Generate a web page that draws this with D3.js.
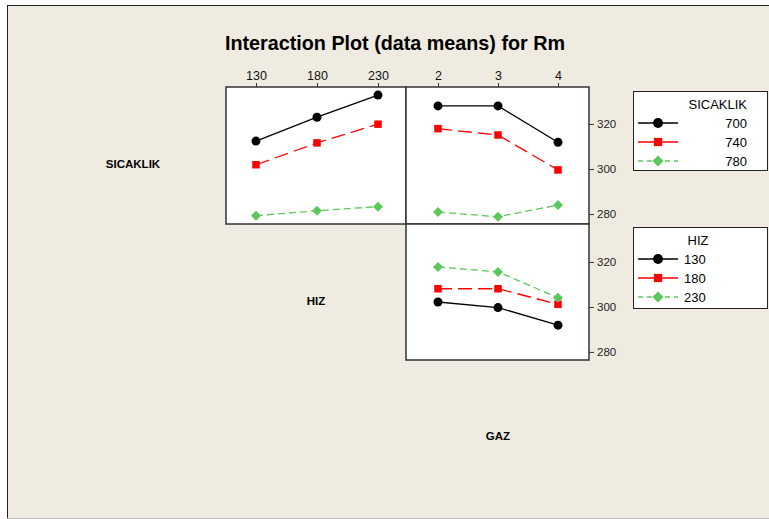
<!doctype html>
<html>
<head>
<script src="https://d3js.org/d3.v7.min.js"></script>
<style>
  body { margin: 0; background: #fff; }
  text { font-family: Arial, "Liberation Sans", sans-serif; }
</style>
</head>
<body>
<script>
// ---- data ----
var hizLevels = [130, 180, 230];
var gazLevels = [2, 3, 4];
var sicaklikLevels = [700, 740, 780];

// top-left: Rm vs HIZ, one line per SICAKLIK
var sicHiz700 = [312.4, 323.0, 332.8];
var sicHiz740 = [301.9, 311.6, 319.9];
var sicHiz780 = [279.3, 281.5, 283.3];

// top-right: Rm vs GAZ, one line per SICAKLIK
var sicGaz700 = [328.0, 328.0, 311.9];
var sicGaz740 = [317.9, 315.1, 299.6];
var sicGaz780 = [280.9, 278.8, 284.0];

// bottom-right: Rm vs GAZ, one line per HIZ
var hizGaz130 = [302.2, 299.7, 291.9];
var hizGaz180 = [308.1, 308.1, 301.2];
var hizGaz230 = [317.8, 315.6, 304.1];

var yTicks = [280, 300, 320];

// ---- layout ----
var W = 769, H = 519;
var svg = d3.select("body").append("svg").attr("width", W).attr("height", H);

svg.append("rect").attr("x", 7).attr("y", 5).attr("width", W - 7).attr("height", H - 6).attr("fill", "#efebe0");
svg.append("line").attr("x1", 7).attr("x2", W).attr("y1", 5.5).attr("y2", 5.5).attr("stroke", "#222");
svg.append("line").attr("x1", 7.5).attr("x2", 7.5).attr("y1", 5).attr("y2", H).attr("stroke", "#222");
svg.append("line").attr("x1", 7).attr("x2", W).attr("y1", 518.5).attr("y2", 518.5).attr("stroke", "#bbb");

svg.append("text").attr("x", 395).attr("y", 50).attr("text-anchor", "middle")
  .attr("textLength", 340).attr("lengthAdjust", "spacingAndGlyphs")
  .style("font-weight", "bold").style("font-size", "21px").text("Interaction Plot (data means) for Rm");

var styles = [
  { color: "#000", dash: null, shape: "circle" },
  { color: "#ff0000", dash: "14,6", shape: "square" },
  { color: "#5cc85c", dash: "7,4", shape: "diamond" }
];

var x1 = d3.scalePoint().domain(hizLevels).range([256, 378]);
var x2 = d3.scalePoint().domain(gazLevels).range([438, 558]);
var yTop = d3.scaleLinear().domain([275.6, 336.4]).range([224, 87]);
var yBot = d3.scaleLinear().domain([276.4, 336.9]).range([360, 224]);

function marker(g, shape, color, cx, cy, k) {
  k = k || 1;
  if (shape === "circle") {
    g.append("circle").attr("cx", cx).attr("cy", cy).attr("r", 4.5 * k).attr("fill", color);
  } else if (shape === "square") {
    var s = 7.5 * k;
    g.append("rect").attr("x", cx - s / 2).attr("y", cy - s / 2).attr("width", s).attr("height", s).attr("fill", color);
  } else {
    var r = 5 * k;
    g.append("path").attr("d", "M" + cx + "," + (cy - r) + "L" + (cx + r) + "," + cy + "L" + cx + "," + (cy + r) + "L" + (cx - r) + "," + cy + "Z")
      .attr("fill", color);
  }
}

function panel(px, py, pw, ph, xs, levels, ys, series) {
  var g = svg.append("g");
  g.append("rect").attr("x", px).attr("y", py).attr("width", pw).attr("height", ph)
    .attr("fill", "#fff").attr("stroke", "#333").attr("stroke-width", 1.5);
  series.forEach(function(vals, i) {
    var s = styles[i];
    var pts = vals.map(function(v, j) { return [xs(levels[j]), ys(v)]; });
    g.append("path").attr("d", d3.line()(pts)).attr("fill", "none")
      .attr("stroke", s.color).attr("stroke-width", 1.3).attr("stroke-dasharray", s.dash);
    pts.forEach(function(p) { marker(g, s.shape, s.color, p[0], p[1]); });
  });
  return g;
}

panel(226, 87, 180, 137, x1, hizLevels, yTop, [sicHiz700, sicHiz740, sicHiz780]);
panel(406, 87, 183, 137, x2, gazLevels, yTop, [sicGaz700, sicGaz740, sicGaz780]);
panel(406, 224, 183, 136, x2, gazLevels, yBot, [hizGaz130, hizGaz180, hizGaz230]);

// top axes
function topAxis(xs) {
  svg.append("g").attr("transform", "translate(0,87)")
    .call(d3.axisTop(xs).tickSize(4).tickPadding(3))
    .call(function(a) {
      a.select(".domain").remove();
      a.selectAll("line").attr("stroke", "#333");
      a.selectAll("text").style("font-size", "12.5px").attr("fill", "#111");
    });
}
topAxis(x1);
topAxis(x2);

function rightAxis(ys) {
  svg.append("g").attr("transform", "translate(589,0)")
    .call(d3.axisRight(ys).tickValues(yTicks).tickSize(5).tickPadding(3))
    .call(function(a) {
      a.select(".domain").remove();
      a.selectAll("line").attr("stroke", "#333");
      a.selectAll("text").style("font-size", "11.5px").attr("fill", "#222");
    });
}
rightAxis(yTop);
rightAxis(yBot);

// row labels
[["SICAKLIK", 133, 168], ["HIZ", 316, 305], ["GAZ", 498, 440]].forEach(function(d) {
  svg.append("text").attr("x", d[1]).attr("y", d[2]).attr("text-anchor", "middle")
    .style("font-weight", "bold").style("font-size", "11.5px").text(d[0]);
});

// legends
function legend(y0, h, title, labels, alignRight) {
  var g = svg.append("g");
  g.append("rect").attr("x", 633.5).attr("y", y0 + 0.5).attr("width", 134).attr("height", h)
    .attr("fill", "#fff").attr("stroke", "#222");
  g.append("text").attr("x", alignRight ? 747 : 698).attr("y", y0 + 18)
    .attr("text-anchor", alignRight ? "end" : "middle").style("font-size", "13px").text(title);
  labels.forEach(function(lab, i) {
    var s = styles[i];
    var yy = y0 + 32 + i * 19;
    g.append("line").attr("x1", 638).attr("x2", 678).attr("y1", yy).attr("y2", yy)
      .attr("stroke", s.color).attr("stroke-width", 1.3).attr("stroke-dasharray", i === 2 ? "5,4" : null);
    marker(g, s.shape, s.color, 658, yy, 1.1);
    g.append("text").attr("x", alignRight ? 747 : 684).attr("y", yy + 4.5)
      .attr("text-anchor", alignRight ? "end" : "start").style("font-size", "13px").text(lab);
  });
}
legend(91, 79, "SICAKLIK", sicaklikLevels, true);
legend(227, 81, "HIZ", hizLevels, false);
</script>
</body>
</html>
